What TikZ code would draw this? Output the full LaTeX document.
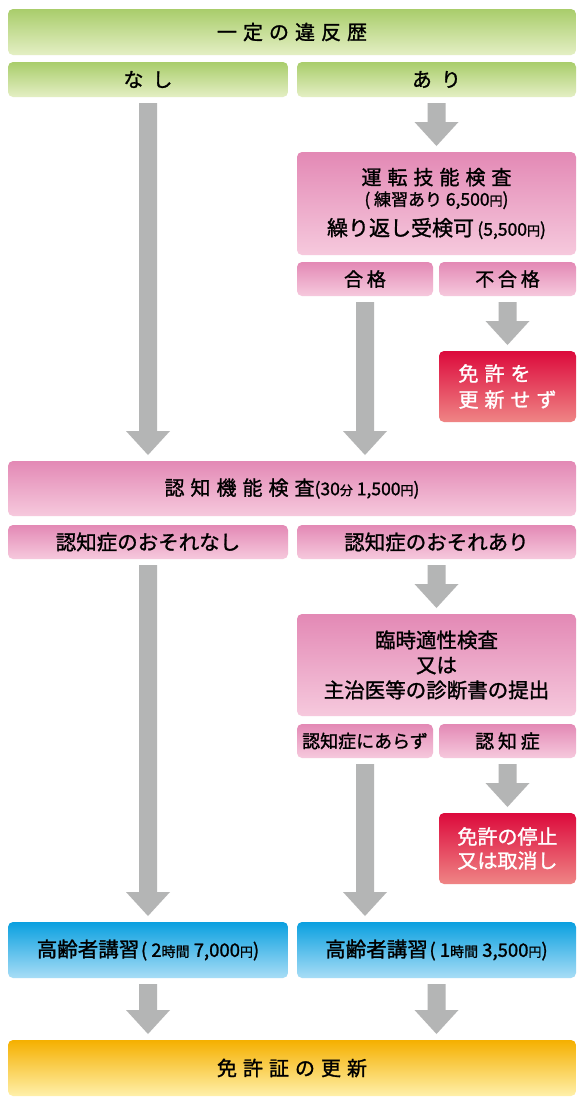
\documentclass[tikz,border=0pt]{standalone}
\usepackage{fontspec}
\setmainfont{Noto Sans CJK JP}[RawFeature={embolden=1.3}]
\newfontfamily\jpwide{Noto Sans CJK JP}[LetterSpace=30,RawFeature={embolden=1.3}]
\newfontfamily\jpwider{Noto Sans CJK JP}[LetterSpace=45,RawFeature={embolden=1.3}]
\newfontfamily\jpmid{Noto Sans CJK JP}[LetterSpace=20,RawFeature={embolden=1.3}]
\usetikzlibrary{calc}
\definecolor{gT}{HTML}{A9CD6B}
\definecolor{gB}{HTML}{E4EFC4}
\definecolor{pT}{HTML}{E389B5}
\definecolor{pB}{HTML}{F6C9DD}
\definecolor{rT}{HTML}{DC0A3C}
\definecolor{rB}{HTML}{EF8585}
\definecolor{bT}{HTML}{0AA0E0}
\definecolor{bB}{HTML}{A8DDF6}
\definecolor{oT}{HTML}{F5B000}
\definecolor{oM}{HTML}{FFD200}
\definecolor{oB}{HTML}{FFF0AA}
\definecolor{arr}{HTML}{B4B5B5}
\newcommand\jpT{\jpwide\fontsize{20}{25}\selectfont}
\newcommand\jpW{\jpwider\fontsize{20}{25}\selectfont}
\newcommand\jpM{\jpmid\fontsize{19}{24}\selectfont}
\newcommand\jpN{\fontsize{20.5}{25}\selectfont}
\newcommand\jpS{\fontsize{17.5}{20}\selectfont}
\newcommand\jpX{\fontsize{13}{15}\selectfont}
\newcommand\blockarrow[2]{%
  \fill[arr] let \p1=(#1.south), \p2=(#2.north) in
    (\x1-9pt,\y1-6pt) -- (\x1+9pt,\y1-6pt) -- (\x1+9pt,\y2+30pt) -- (\x1+22pt,\y2+30pt)
    -- (\x1,\y2+6pt) -- (\x1-22pt,\y2+30pt) -- (\x1-9pt,\y2+30pt) -- cycle;}
\begin{document}
\begin{tikzpicture}[x=1pt,y=-1pt,
  box/.style={rounded corners=5pt, inner sep=0pt, outer sep=0pt, align=center, text=black},
  green/.style={box, top color=gT, bottom color=gB},
  pink/.style={box, top color=pT, bottom color=pB},
  redb/.style={box, top color=rT, bottom color=rB, text=white},
  blue/.style={box, top color=bT, bottom color=bB},
  orange/.style={box, top color=oT, middle color=oM, bottom color=oB}]
\useasboundingbox (0,0) rectangle (584,1104);
\fill[white] (0,0) rectangle (584,1104);

\node[green, minimum width=568, minimum height=46] (top) at (292,32) {\jpT 一定の違反歴};
\node[green, minimum width=280, minimum height=35] (nashi) at (148,79.5) {\jpW なし};
\node[green, minimum width=279, minimum height=35] (ari) at (436.5,79.5) {\jpW あり};

\node[pink, minimum width=279, minimum height=103, font=\fontsize{20}{25}\selectfont] (unten) at (436.5,203.5)
  {{\jpT 運転技能検査}\\[-4pt]
   {\fontsize{17}{20}\selectfont ( 練習あり {\fontsize{17.5}{20}\selectfont 6,500{\jpX 円})}}\\[5pt]
   {\fontsize{21}{25}\selectfont 繰り返し受検可}\,{\jpS (5,500{\jpX 円})}};
\node[pink, minimum width=136, minimum height=34] (goukaku) at (365,279) {\jpM 合格};
\node[pink, minimum width=137, minimum height=34] (fugoukaku) at (507.5,279) {\jpM 不合格};
\node[redb, minimum width=137, minimum height=71, align=left, font=\jpwide\fontsize{20}{26}\selectfont] (fail1) at (507.5,386.5)
  {免許を\\更新せず};

\node[pink, minimum width=568, minimum height=55] (ninchi) at (292,488.5)
  {{\jpT 認知機能検査}{\jpS (30{\jpX 分} 1,500{\jpX 円})}};
\node[pink, minimum width=280, minimum height=34] (osorenashi) at (148,542) {\jpN 認知症のおそれなし};
\node[pink, minimum width=279, minimum height=34] (osoreari) at (436.5,542) {\jpN 認知症のおそれあり};

\node[pink, minimum width=279, minimum height=102, font=\fontsize{20.5}{25}\selectfont] (rinji) at (436.5,665)
  {臨時適性検査\\又は\\主治医等の診断書の提出};
\node[pink, minimum width=136, minimum height=34] (arazu) at (365,741) {\fontsize{18}{22}\selectfont 認知症にあらず};
\node[pink, minimum width=137, minimum height=34] (ninchisho) at (507.5,741) {\jpM 認知症};
\node[redb, minimum width=137, minimum height=71, font=\fontsize{20}{24}\selectfont] (fail2) at (507.5,848.5)
  {免許の停止\\又は取消し};

\node[blue, minimum width=280, minimum height=56] (kourei1) at (148,950)
  {{\jpN 高齢者講習}\,{\fontsize{18.5}{20}\selectfont ( 2{\fontsize{14}{16}\selectfont 時間} 7,000{\jpX 円})}};
\node[blue, minimum width=279, minimum height=56] (kourei2) at (436.5,950)
  {{\jpN 高齢者講習}\,{\fontsize{18.5}{20}\selectfont ( 1{\fontsize{14}{16}\selectfont 時間} 3,500{\jpX 円})}};

\node[orange, minimum width=568, minimum height=56] (renew) at (292,1068) {\jpT 免許証の更新};

\blockarrow{nashi}{ninchi}
\blockarrow{ari}{unten}
\blockarrow{goukaku}{ninchi}
\blockarrow{fugoukaku}{fail1}
\blockarrow{osorenashi}{kourei1}
\blockarrow{osoreari}{rinji}
\blockarrow{arazu}{kourei2}
\blockarrow{ninchisho}{fail2}
\blockarrow{kourei1}{renew}
\blockarrow{kourei2}{renew}
\end{tikzpicture}
\end{document}
